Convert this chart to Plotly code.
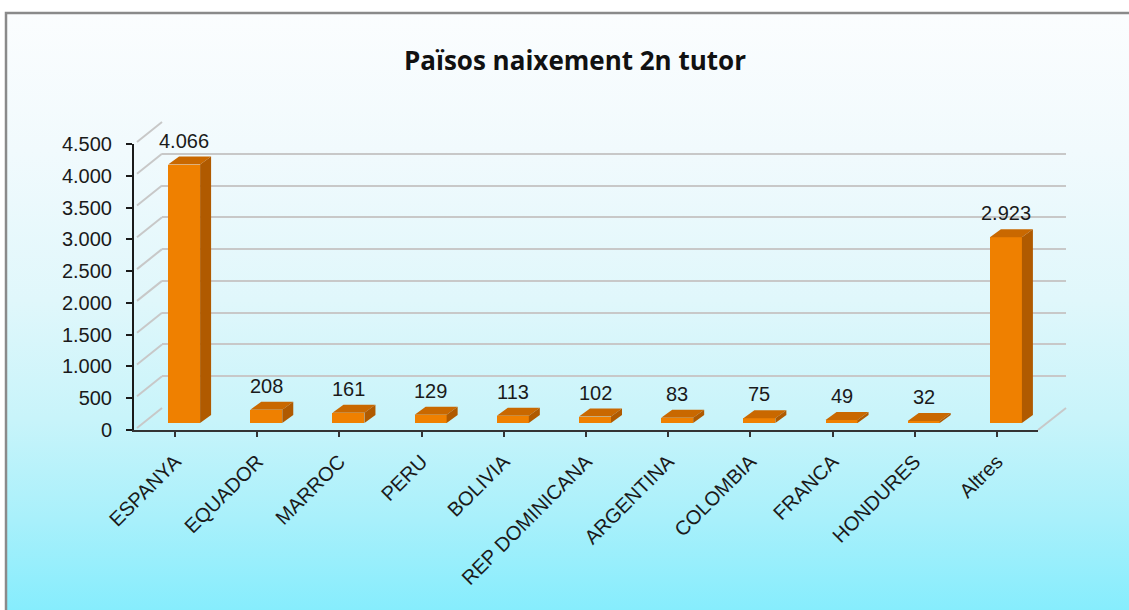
import plotly.graph_objects as go

# ---------------- data ----------------
categories = ["ESPANYA", "EQUADOR", "MARROC", "PERU", "BOLIVIA", "REP DOMINICANA",
              "ARGENTINA", "COLOMBIA", "FRANCA", "HONDURES", "Altres"]
values = [4066, 208, 161, 129, 113, 102, 83, 75, 49, 32, 2923]
y_ticks = [0, 500, 1000, 1500, 2000, 2500, 3000, 3500, 4000, 4500]
title_text = "Països naixement 2n tutor"


def fmt(v):
    return f"{v:,}".replace(",", ".")


y_ticktext = [fmt(v) for v in y_ticks]
value_text = [fmt(v) for v in values]

# ---------------- geometry (pixels) ----------------
W, H = 1129, 610
AX_L, AX_R = 134, 1038          # main axis x extent
AX_B, AX_T = 430, 144           # y pixel of 0 and of 4500
WALL_DX, WALL_DY = 28, -22      # back wall offset
BAR_DX, BAR_DY = 9, -7          # bar front offset
DEPTH_DX, DEPTH_DY = 11, -8     # bar depth
BAR_W_PX = 32
YMAX = y_ticks[-1]
n = len(categories)
cat_px = (AX_R - AX_L) / n
unit_px = (AX_B - AX_T) / YMAX


def fx(px):
    return px / W


def fy(py):
    return (H - py) / H


def ypix(v):
    return AX_B - v * unit_px


fig = go.Figure()

# ---- background gradient (pixel subplot) ----
fig.add_trace(go.Scatter(
    x=[7, W + 5, W + 5, 7, 7], y=[14, 14, H + 5, H + 5, 14],
    mode="lines", fill="toself", line=dict(width=0),
    fillgradient=dict(type="vertical", start=14, stop=H,
                      colorscale=[[0.0, "#fbfdfe"], [0.23, "#f1fafd"],
                                  [0.48, "#e0f7fb"], [0.68, "#c8f4fa"],
                                  [0.85, "#a8f0fb"], [1.0, "#86edfd"]]),
    hoverinfo="skip", showlegend=False, xaxis="x", yaxis="y"))

# frame border
fig.add_trace(go.Scatter(
    x=[6, 6, W + 5], y=[H + 5, 13, 13], mode="lines",
    line=dict(color="#8a8a8a", width=2.5), hoverinfo="skip",
    showlegend=False, xaxis="x", yaxis="y"))

# diagonal connectors between axis and back wall
dx_, dy_ = [], []
for v in y_ticks:
    py = ypix(v)
    dx_ += [AX_L + 3, AX_L + WALL_DX, None]
    dy_ += [py - 2, py + WALL_DY, None]
dx_ += [AX_R, AX_R + WALL_DX, None]
dy_ += [AX_B, AX_B + WALL_DY, None]
fig.add_trace(go.Scatter(
    x=dx_, y=dy_, mode="lines", line=dict(color="#c8c8c8", width=2),
    hoverinfo="skip", showlegend=False, xaxis="x", yaxis="y"))

# ---- back wall gridlines (subplot 2) ----
fig.add_trace(go.Scatter(x=[None], y=[None], xaxis="x2", yaxis="y2",
                         showlegend=False, hoverinfo="skip"))

# ---- main axes (subplot 3) ----
fig.add_trace(go.Scatter(x=[None], y=[None], xaxis="x3", yaxis="y3",
                         showlegend=False, hoverinfo="skip"))

# ---- bars (subplot 4) ----
idx = list(range(n))
w = BAR_W_PX / cat_px / 2
ddx = DEPTH_DX / cat_px
ddy = -DEPTH_DY / unit_px

fig.add_trace(go.Bar(
    x=idx, y=values, width=2 * w, marker=dict(color="#EF8000", line=dict(width=0)),
    xaxis="x4", yaxis="y4", showlegend=False,
    hovertext=categories, hoverinfo="text+y"))

top_x, top_y, side_x, side_y = [], [], [], []
for i, v in zip(idx, values):
    top_x += [i - w, i + w, i + w + ddx, i - w + ddx, i - w, None]
    top_y += [v, v, v + ddy, v + ddy, v, None]
    side_x += [i + w, i + w, i + w + ddx, i + w + ddx, i + w, None]
    side_y += [0, v, v + ddy, ddy, 0, None]

fig.add_trace(go.Scatter(
    x=top_x, y=top_y, mode="lines", fill="toself", fillcolor="#C96800",
    line=dict(width=0, color="#C96800"), xaxis="x4", yaxis="y4",
    showlegend=False, hoverinfo="skip"))
fig.add_trace(go.Scatter(
    x=side_x, y=side_y, mode="lines", fill="toself", fillcolor="#B05A00",
    line=dict(width=0, color="#B05A00"), xaxis="x4", yaxis="y4",
    showlegend=False, hoverinfo="skip"))

annotations = []
for i, v, t in zip(idx, values, value_text):
    annotations.append(dict(
        x=i, y=v, xref="x4", yref="y4", text=t, showarrow=False,
        yanchor="middle", yshift=24,
        font=dict(family="Liberation Sans, Arial", size=20, color="#1a1a1a")))

hidden = dict(visible=False, fixedrange=True, automargin=False)

fig.update_layout(
    template="none",
    width=W, height=H,
    margin=dict(l=0, r=0, t=0, b=0, pad=0, autoexpand=False),
    paper_bgcolor="white", plot_bgcolor="rgba(0,0,0,0)",
    showlegend=False,
    title=dict(text=title_text, x=fx(575), xanchor="center",
               y=fy(61), yanchor="middle", automargin=False,
               font=dict(family="Open Sans", size=26, color="#111111",
                         weight="bold")),
    xaxis=dict(domain=[0, 1], range=[0, W], **hidden),
    yaxis=dict(domain=[0, 1], range=[H, 0], **hidden),
    xaxis2=dict(domain=[fx(AX_L + WALL_DX), fx(AX_R + WALL_DX)],
                range=[-0.5, n - 0.5], anchor="y2", visible=False,
                automargin=False),
    yaxis2=dict(domain=[fy(AX_B + WALL_DY), fy(AX_T + WALL_DY)],
                range=[0, YMAX], anchor="x2", tickvals=y_ticks,
                showgrid=True, gridcolor="#c8c8c8", gridwidth=2,
                showticklabels=False, ticks="", showline=False,
                zeroline=False, automargin=False),
    xaxis3=dict(domain=[fx(AX_L), fx(AX_R)], range=[-0.5, n - 0.5],
                anchor="y3", tickvals=idx, ticktext=categories,
                tickangle=-45, ticks="outside", ticklen=5, tickwidth=1.5,
                tickcolor="#333333", showline=True, linecolor="#333333",
                linewidth=2, showgrid=False, zeroline=False,
                ticklabelstandoff=5, automargin=False,
                tickfont=dict(family="Liberation Sans, Arial", size=20,
                              color="#1a1a1a")),
    yaxis3=dict(domain=[fy(AX_B), fy(AX_T)], range=[0, YMAX], anchor="x3",
                tickvals=y_ticks, ticktext=y_ticktext, ticks="outside",
                ticklen=6, tickwidth=1.5, tickcolor="#1a1a1a",
                showline=True, linecolor="#1a1a1a", linewidth=2,
                showgrid=False, zeroline=False, ticklabelstandoff=10,
                automargin=False,
                tickfont=dict(family="Liberation Sans, Arial", size=20,
                              color="#1a1a1a")),
    xaxis4=dict(domain=[fx(AX_L + BAR_DX), fx(AX_R + BAR_DX)],
                range=[-0.5, n - 0.5], anchor="y4", visible=False,
                automargin=False),
    yaxis4=dict(domain=[fy(AX_B + BAR_DY), fy(AX_T + BAR_DY)],
                range=[0, YMAX], anchor="x4", visible=False,
                automargin=False),
    annotations=annotations,
    bargap=0,
)

fig.write_html("out.html",
               config={"displayModeBar": False},
               post_script="document.body.style.margin='0';"
                           "document.body.style.overflow='hidden';")
